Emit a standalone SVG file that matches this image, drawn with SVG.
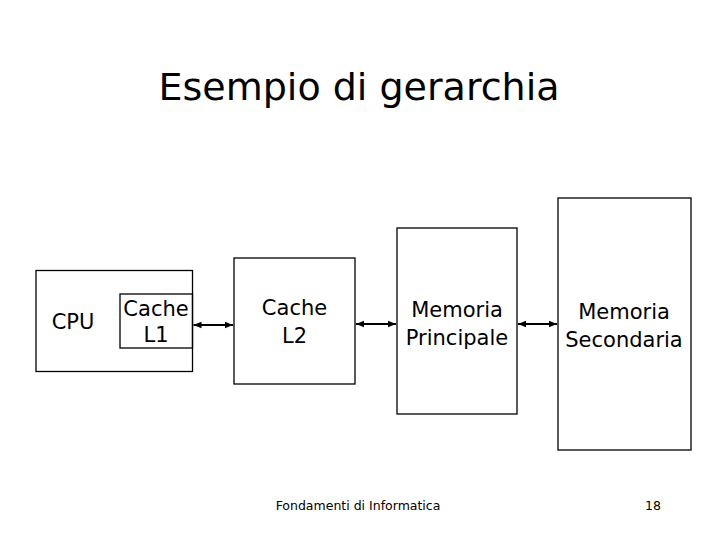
<svg xmlns="http://www.w3.org/2000/svg" width="720" height="540" viewBox="0 0 720 540">
<style>
.box{fill:none;stroke:#000;stroke-width:1.3}
.t{font-family:"DejaVu Sans",sans-serif;font-size:21px;fill:#000;text-anchor:middle}
.conn{stroke:#000;stroke-width:2;fill:none;marker-start:url(#ah);marker-end:url(#ah)}
</style>
<defs>
<marker id="ah" viewBox="0 0 10 10" refX="10" refY="5" markerWidth="4" markerHeight="4" orient="auto-start-reverse" markerUnits="strokeWidth">
<path d="M0,1 L10,5 L0,9 z" fill="#000"/>
</marker>
</defs>
<rect width="720" height="540" fill="#fff"/>
<text x="359" y="100" style="font-family:'DejaVu Sans',sans-serif;font-size:38px;text-anchor:middle">Esempio di gerarchia</text>
<g id="cpu">
<rect class="box" x="36" y="270.5" width="156.5" height="101"/>
<text class="t" x="73" y="329">CPU</text>
</g>
<g id="cacheL1">
<rect class="box" x="120" y="294" width="72.5" height="54"/>
<text class="t" x="156" y="316">Cache</text>
<text class="t" x="156" y="342">L1</text>
</g>
<g id="cacheL2">
<rect class="box" x="234" y="258" width="121" height="126"/>
<text class="t" x="294.5" y="315">Cache</text>
<text class="t" x="294.5" y="343">L2</text>
</g>
<g id="memPrincipale">
<rect class="box" x="397" y="228" width="120" height="186"/>
<text class="t" x="457" y="317">Memoria</text>
<text class="t" x="457" y="345">Principale</text>
</g>
<g id="memSecondaria">
<rect class="box" x="558" y="198" width="133" height="252"/>
<text class="t" x="624" y="319">Memoria</text>
<text class="t" x="624" y="347">Secondaria</text>
</g>
<g id="connectors">
<line class="conn" x1="193.5" y1="325" x2="233" y2="325"/>
<line class="conn" x1="356" y1="324" x2="396" y2="324"/>
<line class="conn" x1="518" y1="324" x2="557" y2="324"/>
</g>
<text x="358" y="510" style="font-family:'DejaVu Sans',sans-serif;font-size:12.5px;text-anchor:middle">Fondamenti di Informatica</text>
<text x="653" y="510" style="font-family:'DejaVu Sans',sans-serif;font-size:12.5px;text-anchor:middle">18</text>
</svg>
